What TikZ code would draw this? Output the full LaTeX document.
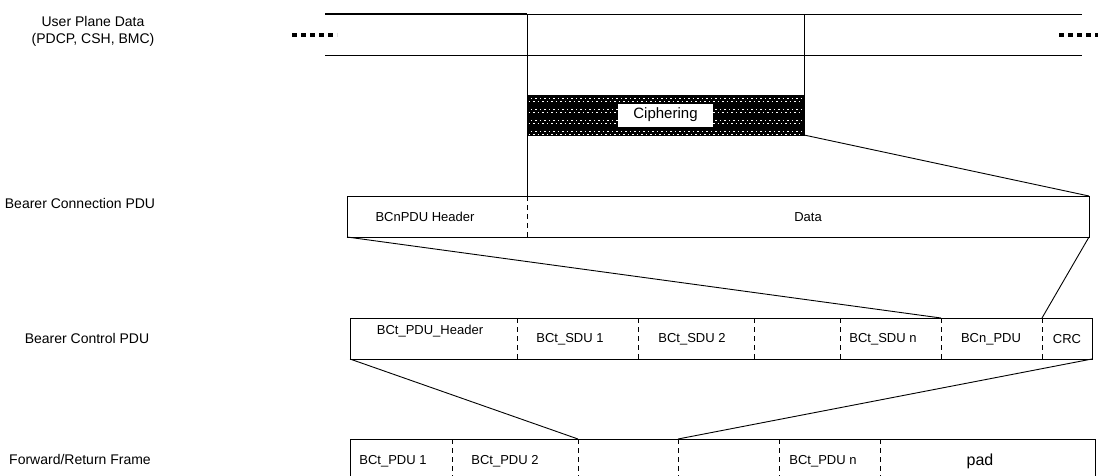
\documentclass[tikz,border=0pt]{standalone}
\usepackage{fontspec}
\setmainfont{Liberation Sans}
\tikzset{
  pdubox/.style={draw, rectangle, line width=0.9pt, inner sep=0pt, outer sep=0pt},
  divider/.style={line width=0.9pt, dash pattern=on 5pt off 4pt},
  fieldtext/.style={font=\fontsize{13}{15}\selectfont, inner sep=0pt},
  rowlabel/.style={font=\fontsize{14}{17}\selectfont, align=center, inner sep=0pt},
  link/.style={line width=0.9pt},
  dots/.style={line width=4.5pt, dash pattern=on 5pt off 4pt},
  speckle/.style={white, line width=1pt, dash pattern=on 1.5pt off 3pt},
}

\begin{document}
\begin{tikzpicture}[x=1pt, y=-1pt]
\useasboundingbox (0,0) rectangle (1098,475);

% row labels on the left
\node[rowlabel] (lblupd) at (93,31) {User Plane Data\\(PDCP, CSH, BMC)};
\node[rowlabel] (lblbcn) at (80,203) {Bearer Connection PDU};
\node[rowlabel] (lblctl) at (87,338) {Bearer Control PDU};
\node[rowlabel] (lblfrm) at (80,459) {Forward/Return Frame};

% user plane data stream
\coordinate (upd-tl) at (325,14);
\coordinate (upd-tm) at (527,14);
\coordinate (upd-tr) at (1082,14);
\coordinate (upd-bl) at (325,55);
\coordinate (upd-br) at (1082,55);
\coordinate (upd-c2) at (804,14);
\draw[line width=1.4pt] (upd-tl) -- (upd-tm);
\draw[link] (upd-tm) -- (upd-tr);
\draw[link] (upd-bl) -- (upd-br);
\coordinate (dots-l1) at (292,35);
\coordinate (dots-l2) at (337,35);
\coordinate (dots-r1) at (1059,35);
\coordinate (dots-r2) at (1102,35);
\draw[dots] (dots-l1) -- (dots-l2);
\draw[dots] (dots-r1) -- (dots-r2);

% ciphered part
\node[pdubox, fill=black, minimum width=277, minimum height=40] (ciph) at (665.5,115) {};
\foreach \yy [count=\k] in {98.5,101.5,109.5,112.5,120.5,123.5,131,134} {
  \pgfmathsetmacro{\ph}{mod(\k,2)*2.2}
  \draw[speckle, dash phase=\ph pt]
    ([xshift=1.5pt]ciph.west |- 0,\yy) -- ([xshift=-1.5pt]ciph.east |- 0,\yy);
}
\node[fill=white, minimum width=95, minimum height=23, inner sep=0pt,
      font=\fontsize{15}{17}\selectfont] (ciphlbl) at (665.5,115) {Ciphering};

% Bearer Connection PDU
\node[pdubox, minimum width=742, minimum height=41] (bcn) at (718,216.5) {};
\coordinate (bcn-t1) at (527,196);
\coordinate (bcn-b1) at (527,237);
\draw[divider] (bcn-t1) -- (bcn-b1);
\node[fieldtext] (bcnhdr) at (425,217) {BCnPDU Header};
\node[fieldtext] (bcndata) at (808,217) {Data};

\draw[link] (upd-tm) -- (bcn-t1);
\draw[link] (upd-c2) -- (ciph.north east);
\draw[link] (ciph.south east) -- (bcn.north east);

% Bearer Control PDU
\node[pdubox, minimum width=742, minimum height=41] (ctl) at (721,338.5) {};
\foreach \x [count=\i] in {517,638,754,840,941,1042} {
  \coordinate (ctl-t\i) at (\x,318);
  \coordinate (ctl-b\i) at (\x,359);
  \draw[divider] (ctl-t\i) -- (ctl-b\i);
}
\node[fieldtext] (ctlhdr) at (430,331) {BCt\_PDU\_Header};
\node[fieldtext] (ctlsdu1) at (570,339) {BCt\_SDU 1};
\node[fieldtext] (ctlsdu2) at (692,339) {BCt\_SDU 2};
\node[fieldtext] (ctlsdun) at (883,339) {BCt\_SDU n};
\node[fieldtext] (ctlbcn) at (991,339) {BCn\_PDU};
\node[fieldtext] (ctlcrc) at (1067,339) {CRC};

\draw[link] (bcn.south west) -- (ctl-t5);
\draw[link] (bcn.south east) -- (ctl-t6);

% Forward/Return Frame
\node[pdubox, minimum width=745, minimum height=42] (frm) at (722.5,460) {};
\foreach \x [count=\i] in {452,578,678,779,880} {
  \coordinate (frm-t\i) at (\x,439);
  \coordinate (frm-b\i) at (\x,481);
  \draw[divider] (frm-t\i) -- (frm-b\i);
}
\node[fieldtext] (frmpdu1) at (393,461) {BCt\_PDU 1};
\node[fieldtext] (frmpdu2) at (505,461) {BCt\_PDU 2};
\node[fieldtext] (frmpdun) at (823,461) {BCt\_PDU n};
\node[fieldtext, font=\fontsize{16}{18}\selectfont] (frmpad) at (980,461) {pad};

\draw[link] (ctl.south west) -- (frm-t2);
\draw[link] (ctl.south east) -- (frm-t3);
\end{tikzpicture}
\end{document}
